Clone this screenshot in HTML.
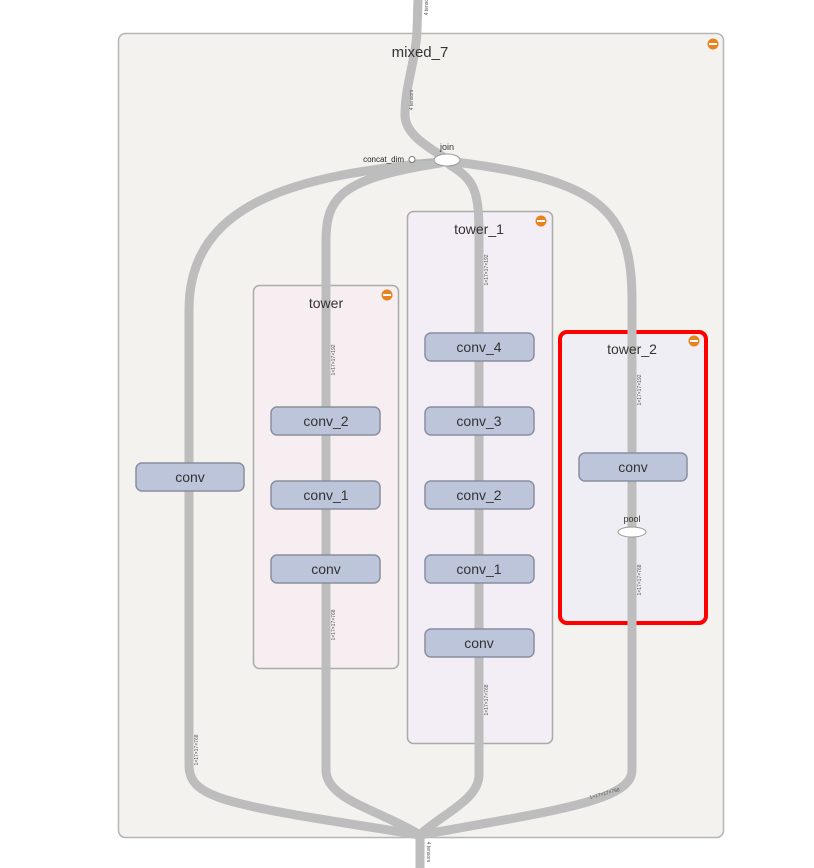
<!DOCTYPE html>
<html><head><meta charset="utf-8"><style>body{margin:0;background:#fff}svg{display:block;font-family:"Liberation Sans",sans-serif}</style></head><body>
<svg width="814" height="868" viewBox="0 0 814 868">
<rect x="118.5" y="33.5" width="605" height="804" rx="7" fill="#f3f2ee" stroke="#b5b5b5" stroke-width="1.5"/>
<circle cx="713" cy="44" r="5.5" fill="#e8821f"/><rect x="709" y="43" width="8" height="2" fill="#fff"/>
<rect x="253.5" y="285.5" width="145" height="383" rx="6" fill="#f6eef0" stroke="#aaa" stroke-width="1.5"/>
<circle cx="387" cy="295" r="5.5" fill="#e8821f"/><rect x="383" y="294" width="8" height="2" fill="#fff"/>
<rect x="407.5" y="211.5" width="145" height="532" rx="6" fill="#f3edf5" stroke="#aaa" stroke-width="1.5"/>
<circle cx="541" cy="221" r="5.5" fill="#e8821f"/><rect x="537" y="220" width="8" height="2" fill="#fff"/>
<rect x="560" y="332" width="146" height="291" rx="7" fill="#efeef5" stroke="#f00" stroke-width="4"/>
<circle cx="694" cy="341" r="5.5" fill="#e8821f"/><rect x="690" y="340" width="8" height="2" fill="#fff"/>
<g fill="none" stroke="#bdbdbd" stroke-width="9" stroke-linecap="round">
<path d="M418,0 L417,30 C416,60 405,85 405,115 C405,135 430,148 445,158"/>
<path d="M440,162 C300,175 189,200 189,310 L189,765 C189,800 230,805 420,835"/>
<path d="M440,163 C345,178 326,195 326,240 L326,770 C326,800 380,810 420,835"/>
<path d="M450,165 C475,180 479,192 479,235 L479,775 C479,800 440,815 420,835"/>
<path d="M455,162 C600,180 632,210 632,300 L632,770 C632,800 560,810 420,835"/>
<path d="M420,835 L420,868"/>
</g>
<g font-size="5" fill="#555">
<text transform="translate(428,5) rotate(-90)" text-anchor="middle">4 tensors</text>
<text transform="translate(413,100) rotate(-90)" text-anchor="middle">4 tensors</text>
<text transform="translate(427,852) rotate(90)" text-anchor="middle">4 tensors</text>
<text transform="translate(335,360) rotate(-90)" text-anchor="middle">1×17×17×192</text>
<text transform="translate(488,270) rotate(-90)" text-anchor="middle">1×17×17×192</text>
<text transform="translate(641,390) rotate(-90)" text-anchor="middle">1×17×17×192</text>
<text transform="translate(641,580) rotate(-90)" text-anchor="middle">1×17×17×768</text>
<text transform="translate(335,625) rotate(-90)" text-anchor="middle">1×17×17×768</text>
<text transform="translate(488,700) rotate(-90)" text-anchor="middle">1×17×17×768</text>
<text transform="translate(198,750) rotate(-90)" text-anchor="middle">1×17×17×768</text>
<text transform="translate(605,795) rotate(-15)" text-anchor="middle">1×17×17×768</text>
</g>
<g font-size="14" text-anchor="middle" fill="#333">
<text x="420" y="57" font-size="15">mixed_7</text>
<text x="326" y="308">tower</text>
<text x="479" y="234">tower_1</text>
<text x="632" y="354">tower_2</text>
</g>
<text x="404" y="162" font-size="8" text-anchor="end" fill="#222">concat_dim</text>
<circle cx="412" cy="159.5" r="3" fill="#fff" stroke="#777"/>
<line x1="415" y1="160" x2="432" y2="160" stroke="#aaa"/>
<text x="447" y="150" font-size="9" text-anchor="middle" fill="#333">join</text>
<ellipse cx="447" cy="160" rx="13" ry="6" fill="#fff" stroke="#999"/>
<g fill="#bdc5db" stroke="#8a8fa0" stroke-width="1.5">
<rect x="136" y="463" width="108" height="28" rx="6"/>
<rect x="271" y="407" width="109" height="28" rx="6"/>
<rect x="271" y="481" width="109" height="28" rx="6"/>
<rect x="271" y="555" width="109" height="28" rx="6"/>
<rect x="425" y="333" width="109" height="28" rx="6"/>
<rect x="425" y="407" width="109" height="28" rx="6"/>
<rect x="425" y="481" width="109" height="28" rx="6"/>
<rect x="425" y="555" width="109" height="28" rx="6"/>
<rect x="425" y="629" width="109" height="28" rx="6"/>
<rect x="579" y="453" width="108" height="28" rx="6"/>
</g>
<g font-size="14" text-anchor="middle" fill="#333">
<text x="190" y="482">conv</text>
<text x="326" y="426">conv_2</text>
<text x="326" y="500">conv_1</text>
<text x="326" y="574">conv</text>
<text x="479" y="352">conv_4</text>
<text x="479" y="426">conv_3</text>
<text x="479" y="500">conv_2</text>
<text x="479" y="574">conv_1</text>
<text x="479" y="648">conv</text>
<text x="633" y="472">conv</text>
</g>
<text x="632" y="522" font-size="9" text-anchor="middle" fill="#333">pool</text>
<ellipse cx="632" cy="532" rx="14" ry="5" fill="#fff" stroke="#999"/>
</svg>
</body></html>
